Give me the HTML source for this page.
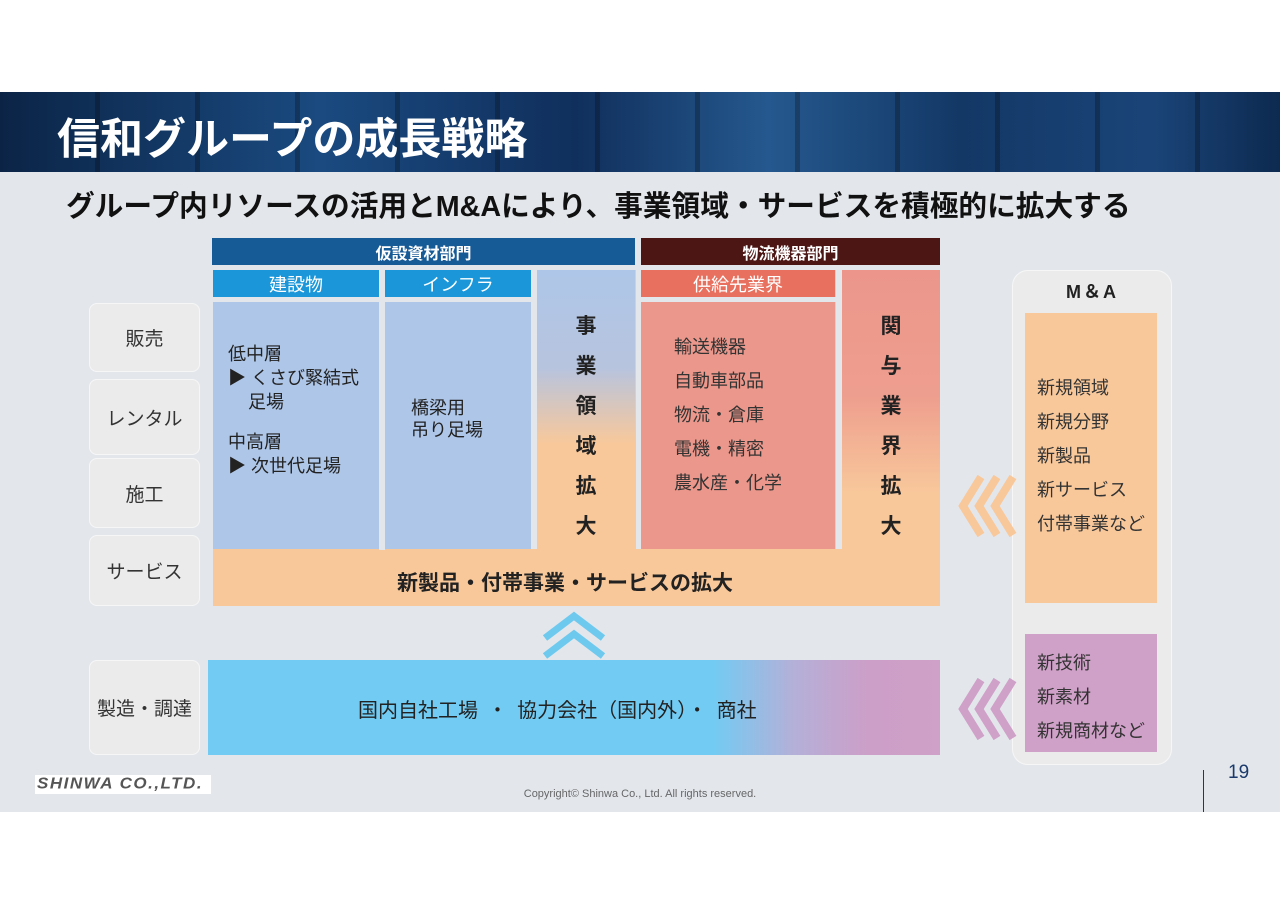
<!DOCTYPE html>
<html><head><meta charset="utf-8"><style>
*{margin:0;padding:0;box-sizing:border-box}
body{width:1280px;height:905px;background:#fff;position:relative;overflow:hidden;font-family:"Liberation Sans","Noto Sans CJK JP",sans-serif;color:#222}
.a{position:absolute}
.c{display:flex;align-items:center;justify-content:center}
.lab{background:#ebebeb;border:1px solid #f6f6f6;border-radius:8px;font-size:19px;color:#333}
.vt{font-weight:bold;font-size:21px;line-height:40px;text-align:center;color:#222}
.tx{font-size:18px;line-height:34px;color:#333}
</style></head><body>
<div class="a" style="left:0;top:92px;width:1280px;height:80px;background:linear-gradient(90deg,#0b2446 0%,#1a4a80 25%,#102f5c 45%,#25588e 60%,#133866 75%,#1a4478 90%,#0d2a50 100%)"></div>
<div class="a" style="left:0;top:92px;width:1280px;height:80px;background:repeating-linear-gradient(90deg,rgba(0,0,0,0) 0 95px,rgba(0,0,0,.25) 95px 100px)"></div>
<div class="a" style="left:57px;top:105px;font-size:43px;font-weight:bold;color:#fff;letter-spacing:0px">信和グループの成長戦略</div>
<div class="a" style="left:0;top:172px;width:1280px;height:640px;background:#e3e7ec"></div>
<div class="a" style="left:66px;top:184px;font-size:28.7px;font-weight:bold;color:#111;white-space:nowrap">グループ内リソースの活用とM&amp;Aにより、事業領域・サービスを積極的に拡大する</div>

<div class="a c" style="left:212px;top:238px;width:423px;height:27px;background:#165a96;color:#fff;font-weight:bold;font-size:16px">仮設資材部門</div>
<div class="a c" style="left:641px;top:238px;width:299px;height:27px;background:#4b1614;color:#fff;font-weight:bold;font-size:16px">物流機器部門</div>

<div class="a" style="left:213px;top:270px;width:727px;height:336px;background:#f8c89b"></div>
<div class="a" style="left:537px;top:270px;width:98px;height:280px;background:linear-gradient(180deg,#aec6e8 0%,#b7c4de 35%,#f8c89b 62%)"></div>
<div class="a" style="left:842px;top:270px;width:98px;height:280px;background:linear-gradient(180deg,#ec968b 0%,#ee9e8e 45%,#f8c89b 80%)"></div>
<div class="a" style="left:636px;top:270px;width:5px;height:280px;background:#e3e7ec"></div>
<div class="a" style="left:531px;top:270px;width:6px;height:280px;background:#e3e7ec"></div>
<div class="a" style="left:836px;top:270px;width:6px;height:280px;background:#e3e7ec"></div>
<div class="a" style="left:213px;top:549px;width:727px;height:57px;background:#f8c89b"></div>
<div class="a" style="left:379px;top:270px;width:6px;height:280px;background:#e3e7ec"></div>

<div class="a c" style="left:213px;top:270px;width:166px;height:27px;background:#1b97d9;color:#fff;font-size:18px">建設物</div>
<div class="a c" style="left:385px;top:270px;width:146px;height:27px;background:#1b97d9;color:#fff;font-size:18px">インフラ</div>
<div class="a" style="left:213px;top:297px;width:318px;height:5px;background:#e3e7ec"></div>
<div class="a" style="left:213px;top:302px;width:166px;height:247px;background:#aec6e8"></div>
<div class="a" style="left:385px;top:302px;width:146px;height:247px;background:#aec6e8"></div>
<div class="a" style="left:228px;top:342px;font-size:18px;line-height:24px;color:#222">低中層<br>▶ くさび緊結式<br>&nbsp;&nbsp;&nbsp;&nbsp;足場<br><div style="height:16px"></div>中高層<br>▶ 次世代足場</div>
<div class="a" style="left:411px;top:397px;font-size:18px;line-height:22px;color:#222">橋梁用<br>吊り足場</div>
<div class="a vt" style="left:537px;top:307px;width:98px">事<br>業<br>領<br>域<br>拡<br>大</div>

<div class="a c" style="left:641px;top:270px;width:194px;height:27px;background:#e8705f;color:#fff;font-size:18px">供給先業界</div>
<div class="a" style="left:641px;top:297px;width:195px;height:5px;background:#e3e7ec"></div>
<div class="a" style="left:641px;top:302px;width:194px;height:247px;background:#eb978b"></div>
<div class="a tx" style="left:674px;top:330px">輸送機器<br>自動車部品<br>物流・倉庫<br>電機・精密<br>農水産・化学</div>
<div class="a vt" style="left:842px;top:307px;width:98px">関<br>与<br>業<br>界<br>拡<br>大</div>
<div class="a" style="left:397px;top:567px;font-weight:bold;font-size:21px;white-space:nowrap">新製品・付帯事業・サービスの拡大</div>

<div class="a c lab" style="left:89px;top:303px;width:111px;height:69px">販売</div>
<div class="a c lab" style="left:89px;top:379px;width:111px;height:76px">レンタル</div>
<div class="a c lab" style="left:89px;top:458px;width:111px;height:70px">施工</div>
<div class="a c lab" style="left:89px;top:535px;width:111px;height:71px">サービス</div>
<div class="a c lab" style="left:89px;top:660px;width:111px;height:95px">製造・調達</div>

<svg class="a" style="left:540px;top:610px" width="70" height="50"><polyline points="5,28 34,6 63,28" fill="none" stroke="#6ec9ef" stroke-width="7"/><polyline points="5,46 34,24 63,46" fill="none" stroke="#6ec9ef" stroke-width="7"/></svg>

<div class="a" style="left:208px;top:660px;width:732px;height:95px;background:linear-gradient(90deg,#72cbf3 0%,#72cbf3 69%,#b4b0d8 80%,#cc9fc8 90%,#cfa0c8 100%)"></div>
<div class="a" style="left:358px;top:694px;font-size:20px;color:#222;white-space:nowrap;word-spacing:4px">国内自社工場 ・ 協力会社（国内外）・ 商社</div>

<div class="a" style="left:1012px;top:270px;width:160px;height:495px;background:#ebebeb;border:1px solid #f6f6f6;border-radius:16px"></div>
<div class="a c" style="left:1012px;top:279px;width:160px;height:24px;font-weight:bold;font-size:18px;letter-spacing:2px;color:#222">M＆A</div>
<div class="a" style="left:1025px;top:313px;width:132px;height:290px;background:#f8c89b"></div>
<div class="a tx" style="left:1037px;top:371px">新規領域<br>新規分野<br>新製品<br>新サービス<br>付帯事業など</div>
<div class="a" style="left:1025px;top:634px;width:132px;height:118px;background:#cfa0c8"></div>
<div class="a tx" style="left:1037px;top:646px">新技術<br>新素材<br>新規商材など</div>

<svg class="a" style="left:955px;top:474px" width="65" height="64"><g fill="none" stroke="#f8c89b" stroke-width="8"><polyline points="26,3 8,32 26,61"/><polyline points="42,3 24,32 42,61"/><polyline points="58,3 40,32 58,61"/></g></svg>
<svg class="a" style="left:955px;top:677px" width="65" height="64"><g fill="none" stroke="#cfa0c8" stroke-width="8"><polyline points="26,3 8,32 26,61"/><polyline points="42,3 24,32 42,61"/><polyline points="58,3 40,32 58,61"/></g></svg>

<div class="a" style="left:35px;top:775px;width:176px;height:19px;background:#fff"></div>
<div class="a" style="left:37px;top:774px;font-size:17px;font-weight:bold;font-style:italic;color:#555;letter-spacing:1.5px;transform:scaleY(0.9)">SHINWA CO.,LTD.</div>
<div class="a" style="left:0;top:788px;width:1280px;text-align:center;font-size:11px;color:#666">Copyright© Shinwa Co., Ltd. All rights reserved.</div>
<div class="a" style="left:1203px;top:770px;width:1px;height:42px;background:#1b3a6b"></div>
<div class="a" style="left:1228px;top:762px;font-size:19px;color:#1b3a6b">19</div>
</body></html>
